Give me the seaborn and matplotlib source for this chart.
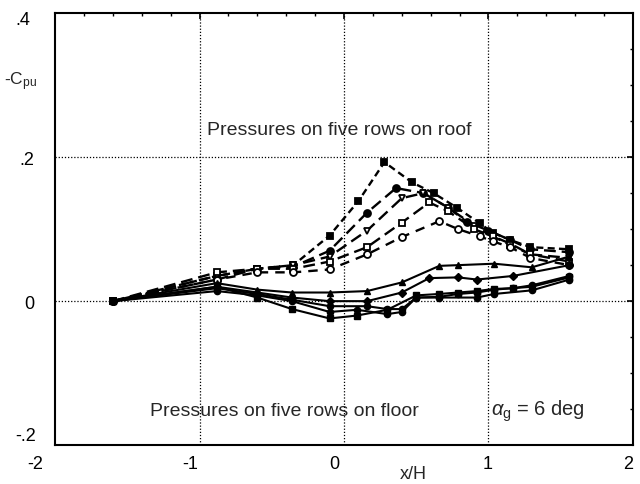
import matplotlib
matplotlib.use("Agg")
import matplotlib.pyplot as plt
import matplotlib.transforms as mtransforms
import seaborn as sns
import pandas as pd
from matplotlib.ticker import MultipleLocator, FuncFormatter

# ---- data ----
# roof rows (dashed)
r1_x = [-1.6, -0.88, -0.6, -0.35, -0.1, 0.1, 0.28, 0.47, 0.62, 0.78, 0.94, 1.03, 1.15, 1.29, 1.56]
r1_y = [0.0, 0.035, 0.045, 0.05, 0.091, 0.139, 0.193, 0.165, 0.15, 0.13, 0.108, 0.095, 0.085, 0.075, 0.072]
r2_x = [-1.6, -0.88, -0.6, -0.35, -0.1, 0.16, 0.36, 0.55, 0.72, 0.85, 1.0, 1.15, 1.29, 1.56]
r2_y = [0.0, 0.03, 0.045, 0.048, 0.07, 0.123, 0.157, 0.15, 0.13, 0.11, 0.098, 0.085, 0.072, 0.068]
r3_x = [-1.6, -0.88, -0.6, -0.35, -0.1, 0.16, 0.40, 0.55, 0.72, 0.9, 1.03, 1.15, 1.29, 1.56]
r3_y = [0.0, 0.035, 0.045, 0.05, 0.062, 0.098, 0.143, 0.15, 0.13, 0.105, 0.09, 0.08, 0.065, 0.06]
r4_x = [-1.6, -0.88, -0.6, -0.35, -0.1, 0.16, 0.40, 0.59, 0.72, 0.9, 1.03, 1.15, 1.29, 1.56]
r4_y = [0.0, 0.04, 0.045, 0.045, 0.055, 0.075, 0.109, 0.137, 0.125, 0.1, 0.09, 0.078, 0.065, 0.055]
r5_x = [-1.6, -0.88, -0.6, -0.35, -0.1, 0.16, 0.40, 0.66, 0.79, 0.94, 1.03, 1.15, 1.29, 1.56]
r5_y = [0.0, 0.03, 0.04, 0.04, 0.044, 0.065, 0.089, 0.111, 0.10, 0.09, 0.083, 0.075, 0.06, 0.05]

# floor rows (solid)
f1_x = [-1.6, -0.88, -0.6, -0.36, -0.1, 0.16, 0.40, 0.66, 0.79, 1.04, 1.3, 1.56]
f1_y = [0.0, 0.025, 0.016, 0.012, 0.012, 0.014, 0.026, 0.049, 0.05, 0.052, 0.047, 0.062]
f2_x = [-1.6, -0.88, -0.6, -0.36, -0.1, 0.16, 0.4, 0.59, 0.79, 0.92, 1.17, 1.56]
f2_y = [0.0, 0.02, 0.012, 0.005, 0.0, 0.0, 0.012, 0.032, 0.033, 0.03, 0.035, 0.05]
f3_x = [-1.6, -0.88, -0.6, -0.36, -0.1, 0.09, 0.3, 0.5, 0.66, 0.79, 0.92, 1.04, 1.17, 1.3, 1.56]
f3_y = [0.0, 0.02, 0.005, -0.011, -0.024, -0.02, -0.012, 0.008, 0.01, 0.012, 0.014, 0.017, 0.018, 0.02, 0.033]
f4_x = [-1.6, -0.88, -0.6, -0.36, -0.1, 0.16, 0.3, 0.4, 0.5, 0.66, 0.79, 0.92, 1.04, 1.17, 1.3, 1.56]
f4_y = [0.0, 0.018, 0.01, 0.002, -0.007, -0.007, -0.011, -0.011, 0.005, 0.006, 0.01, 0.012, 0.016, 0.018, 0.022, 0.035]
f5_x = [-1.6, -0.88, -0.6, -0.36, -0.1, 0.09, 0.3, 0.4, 0.5, 0.66, 0.92, 1.04, 1.3, 1.56]
f5_y = [0.0, 0.014, 0.008, 0.0, -0.015, -0.012, -0.018, -0.015, 0.005, 0.005, 0.005, 0.01, 0.015, 0.03]

x_ticks = [-2, -1, 0, 1, 2]
y_ticks = [-0.2, 0.0, 0.2, 0.4]

sns.set_style("white")
plt.rcParams['font.family'] = ['Liberation Sans', 'DejaVu Sans']
plt.rcParams['mathtext.fontset'] = 'custom'
plt.rcParams['mathtext.rm'] = 'Liberation Sans'
plt.rcParams['mathtext.it'] = 'Liberation Sans:italic'

fig = plt.figure(figsize=(6.4, 4.85), dpi=100)
ax = fig.add_axes([0.086, 0.080, 0.903, 0.891])

roof = [(r1_x, r1_y, 's', 'black', (3, 1.8)),
        (r2_x, r2_y, 'o', 'black', (5, 2.5)),
        (r3_x, r3_y, 'v', 'white', (5, 2.5)),
        (r4_x, r4_y, 's', 'white', (5, 2.5)),
        (r5_x, r5_y, 'o', 'white', (4, 3))]
floor = [(f1_x, f1_y, '^', 'black'),
         (f2_x, f2_y, 'D', 'black'),
         (f3_x, f3_y, 's', 'black'),
         (f4_x, f4_y, 'o', 'black'),
         (f5_x, f5_y, 'o', 'black')]

for xs, ys, m, fc, dash in roof:
    df = pd.DataFrame({"x": xs, "y": ys})
    sns.lineplot(data=df, x="x", y="y", ax=ax, sort=False, estimator=None,
                 color='black', lw=1.7, marker=m, markersize=5,
                 markerfacecolor=fc, markeredgecolor='black', markeredgewidth=1.3,
                 dashes=False, linestyle=(0, dash), zorder=3)
for xs, ys, m, fc in floor:
    df = pd.DataFrame({"x": xs, "y": ys})
    sns.lineplot(data=df, x="x", y="y", ax=ax, sort=False, estimator=None,
                 color='black', lw=1.5, marker=m, markersize=4.5,
                 markerfacecolor=fc, markeredgecolor='black', markeredgewidth=1,
                 zorder=3)

ax.set_xlim(-2, 2)
ax.set_ylim(-0.2, 0.4)
ax.set_xticks(x_ticks)
ax.set_yticks(y_ticks)
ax.xaxis.set_minor_locator(MultipleLocator(0.2))
ax.yaxis.set_minor_locator(MultipleLocator(0.05))

def yfmt(v, pos):
    if abs(v) < 1e-9:
        return "0"
    s = f"{v:.1f}"
    return s.replace("0.", ".")
ax.yaxis.set_major_formatter(FuncFormatter(yfmt))
ax.xaxis.set_major_formatter(FuncFormatter(lambda v, p: f"{int(round(v))}"))

ax.tick_params(which='both', direction='in', top=True, right=True, color='black',
               labelsize=13, labelcolor='black')
ax.tick_params(which='major', length=4, width=1.2)
ax.tick_params(which='minor', length=2.5, width=1)
ax.tick_params(axis='x', pad=7)
ax.tick_params(axis='y', pad=15)

for sp in ax.spines.values():
    sp.set_visible(True)
    sp.set_color('black')
    sp.set_linewidth(1.5)

for gx in [-1, 0, 1]:
    ax.axvline(gx, color='black', lw=0.9, ls=(0, (1, 1.5)), zorder=1)
for gy in [0.0, 0.2]:
    ax.axhline(gy, color='black', lw=0.9, ls=(0, (1, 1.5)), zorder=1)

ax.set_xlabel("")
ax.set_ylabel("")

fig.canvas.draw()
x_offsets_px = [-20, -9, -10, -1, -5]
for lab, dx in zip(ax.get_xticklabels(), x_offsets_px):
    lab.set_transform(lab.get_transform() + mtransforms.ScaledTranslation(dx / 100, 0, fig.dpi_scale_trans))
y_offsets_px = [(2, 12), (0, 0), (0, 0), (-4, -4)]
for lab, (dx, dy) in zip(ax.get_yticklabels(), y_offsets_px):
    lab.set_transform(lab.get_transform() + mtransforms.ScaledTranslation(dx / 100, dy / 100, fig.dpi_scale_trans))

fig.text(0.645, 0.022, "x/H", fontsize=13, ha='center', va='center')
fig.text(0.058, 0.831, r"-C$_{\mathrm{pu}}$", fontsize=12.5, ha='right', va='center')

ax.text(-0.03, 0.238, "Pressures on five rows on roof", fontsize=14, ha='center', va='center')
ax.text(-1.34, -0.152, "Pressures on five rows on floor", fontsize=14, ha='left', va='center')
ax.text(1.02, -0.152, r"$\alpha_{\mathrm{g}}$ = 6 deg", fontsize=14.5, ha='left', va='center')

fig.savefig("out.png", dpi=100)
